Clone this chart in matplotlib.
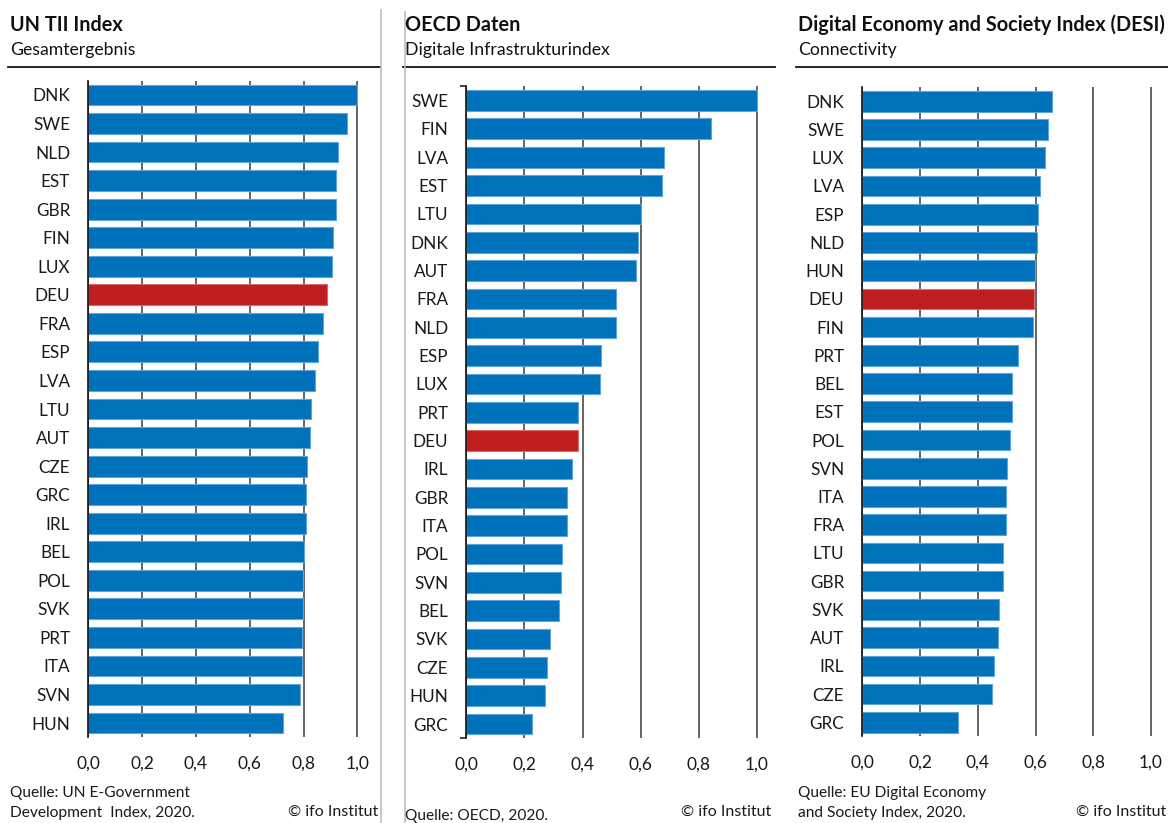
import matplotlib
matplotlib.use("Agg")
import matplotlib.pyplot as plt
from matplotlib.lines import Line2D

plt.rcParams['font.family'] = ['Lato', 'DejaVu Sans']

# ---------------- data ----------------
un_countries = ["DNK", "SWE", "NLD", "EST", "GBR", "FIN", "LUX", "DEU", "FRA", "ESP", "LVA", "LTU",
                "AUT", "CZE", "GRC", "IRL", "BEL", "POL", "SVK", "PRT", "ITA", "SVN", "HUN"]
un_values = [1.000, 0.963, 0.927, 0.922, 0.920, 0.911, 0.907, 0.887, 0.873, 0.855, 0.842, 0.827,
             0.824, 0.814, 0.809, 0.809, 0.803, 0.799, 0.799, 0.794, 0.793, 0.786, 0.725]

oecd_countries = ["SWE", "FIN", "LVA", "EST", "LTU", "DNK", "AUT", "FRA", "NLD", "ESP", "LUX", "PRT",
                  "DEU", "IRL", "GBR", "ITA", "POL", "SVN", "BEL", "SVK", "CZE", "HUN", "GRC"]
oecd_values = [1.000, 0.843, 0.679, 0.674, 0.602, 0.591, 0.584, 0.516, 0.514, 0.464, 0.461, 0.385,
               0.385, 0.365, 0.347, 0.347, 0.330, 0.327, 0.320, 0.288, 0.277, 0.270, 0.225]

desi_countries = ["DNK", "SWE", "LUX", "LVA", "ESP", "NLD", "HUN", "DEU", "FIN", "PRT", "BEL", "EST",
                  "POL", "SVN", "ITA", "FRA", "LTU", "GBR", "SVK", "AUT", "IRL", "CZE", "GRC"]
desi_values = [0.658, 0.643, 0.633, 0.617, 0.609, 0.604, 0.599, 0.594, 0.591, 0.538, 0.520, 0.517,
               0.513, 0.502, 0.499, 0.499, 0.488, 0.488, 0.475, 0.471, 0.456, 0.450, 0.333]

x_ticks = [0.0, 0.2, 0.4, 0.6, 0.8, 1.0]
x_tick_labels = ["0,0", "0,2", "0,4", "0,6", "0,8", "1,0"]

titles = ["UN TII Index", "OECD Daten", "Digital Economy and Society Index (DESI)"]
subtitles = ["Gesamtergebnis", "Digitale Infrastrukturindex", "Connectivity"]
sources = [["Quelle: UN E-Government", "Development  Index, 2020."],
           ["Quelle: OECD, 2020."],
           ["Quelle: EU Digital Economy", "and Society Index, 2020."]]
credit = "© ifo Institut"
highlight = "DEU"

# ---------------- style ----------------
W, H = 1168, 823
BLUE = "#0072BC"
BLUE_EDGE = "#5DA5DA"
RED = "#BE1E1E"
RED_EDGE = "#D86A6A"
GRID = "#3a3a3a"

fig = plt.figure(figsize=(W / 100, H / 100), dpi=100)


def fx(px):
    return px / W


def fy(py):
    return 1 - py / H


XMAX = 1.02
# (zero-x px, px per unit, top px, bottom px, panel left px, panel right px, credit right px)
layouts = [
    (88.3, 269.0, 80.7, 737.3, 9, 380, 378),
    (466.3, 290.7, 86.3, 738.2, 404, 775, 771),
    (862.3, 288.7, 87.2, 736.4, 797, 1168, 1166),
]
panels = [(un_countries, un_values), (oecd_countries, oecd_values), (desi_countries, desi_values)]

for i, ((cats, vals), (x0, sc, top, bot, pl, pr, cr)) in enumerate(zip(panels, layouts)):
    ax = fig.add_axes([fx(x0), fy(bot), fx(XMAX * sc), (bot - top) / H])
    ypos = list(range(len(cats)))
    colors = [RED if c == highlight else BLUE for c in cats]
    edges = [RED_EDGE if c == highlight else BLUE_EDGE for c in cats]
    ax.barh(ypos, vals, height=0.73, color=colors, edgecolor=edges, linewidth=0.8, zorder=2)
    ax.set_xlim(0, XMAX)
    ax.set_ylim(len(cats) - 0.5, -0.5)
    ax.set_xticks(x_ticks)
    ax.set_xticklabels(x_tick_labels, fontsize=12.5, color="#1a1a1a")
    ax.set_yticks(ypos)
    ax.set_yticklabels(cats, fontsize=12.3, color="#1a1a1a")
    ax.tick_params(axis="x", length=0, pad=13)
    ax.tick_params(axis="y", length=0, pad=13)
    ax.grid(axis="x", color=GRID, linewidth=1.1, zorder=0)
    ax.set_axisbelow(True)
    for s in ["top", "right", "bottom"]:
        ax.spines[s].set_visible(False)
    ax.spines["left"].set_color("#111111")
    ax.spines["left"].set_linewidth(1.2)
    ax.spines["left"].set_zorder(3)
    ax.patch.set_alpha(0)
    if i == 1:
        ax.set_yticks([-0.5, len(cats) - 0.5], minor=True)
        ax.tick_params(axis="y", which="minor", length=4, width=1.1, color="#111111")

    # headers
    fig.text(fx(pl + 1), fy(31), titles[i], fontsize=14.3, fontweight="bold", color="#111111",
             ha="left", va="baseline")
    fig.text(fx(pl + 1), fy(55), subtitles[i], fontsize=12.7, color="#111111",
             ha="left", va="baseline")
    fig.add_artist(Line2D([fx(pl - 1), fx(pr)], [fy(66.5), fy(66.5)], color="#111111", linewidth=1.3))

    # sources
    if len(sources[i]) == 2:
        fig.text(fx(pl + 1), fy(793), sources[i][0], fontsize=11.2, color="#1a1a1a", ha="left", va="center")
        fig.text(fx(pl + 1), fy(813), sources[i][1], fontsize=11.2, color="#1a1a1a", ha="left", va="center")
    else:
        fig.text(fx(pl + 1), fy(816), sources[i][0], fontsize=11.2, color="#1a1a1a", ha="left", va="center")
    fig.text(fx(cr), fy(812), credit, fontsize=11.5, color="#1a1a1a", ha="right", va="center")

# panel separators
for xs, y0 in [(380.5, 10), (404.5, 12)]:
    fig.add_artist(Line2D([fx(xs), fx(xs)], [fy(y0), 0], color="#bdbdbd", linewidth=1.2))

fig.savefig("out.png", dpi=100)
